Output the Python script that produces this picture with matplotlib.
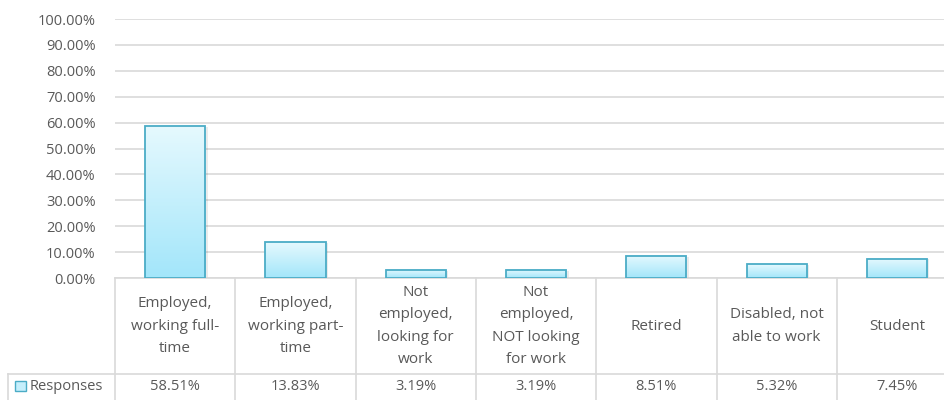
import numpy as np
import matplotlib
matplotlib.use("Agg")
import matplotlib.pyplot as plt
from matplotlib.patches import Rectangle

# data
categories = [
    "Employed,\nworking full-\ntime",
    "Employed,\nworking part-\ntime",
    "Not\nemployed,\nlooking for\nwork",
    "Not\nemployed,\nNOT looking\nfor work",
    "Retired",
    "Disabled, not\nable to work",
    "Student",
]
responses = [58.51, 13.83, 3.19, 3.19, 8.51, 5.32, 7.45]
series_name = "Responses"
y_ticks = [0, 10, 20, 30, 40, 50, 60, 70, 80, 90, 100]

W, H = 944, 400
text_col = "#595959"
grid_col = "#d9d9d9"
edge_col = "#4bacc6"
font = "Open Sans"

fig = plt.figure(figsize=(W / 100, H / 100), dpi=100)
left_px, top_px, bottom_px, col_px = 115, 19, 278, 120.3
ax = fig.add_axes([left_px / W, (H - bottom_px) / H,
                   col_px * len(categories) / W, (bottom_px - top_px) / H])

# gradient fill for each bar, light at top, stronger cyan at the bottom
grad = np.linspace(0, 1, 100).reshape(-1, 1)
cmap = matplotlib.colors.LinearSegmentedColormap.from_list(
    "bar", ["#a3e6fa", "#e5f9fe"])
for i, v in enumerate(responses):
    x0, x1 = i + 0.25, i + 0.75
    ax.imshow(grad, extent=[x0, x1, 0, v], origin="lower", cmap=cmap,
              aspect="auto", zorder=3)
    ax.add_patch(Rectangle((x0 + 0.02, -0.3), 0.5, v, facecolor="#000000",
                           alpha=0.08, edgecolor="none", zorder=2))
ax.bar(np.arange(len(responses)) + 0.5, responses, width=0.5,
       facecolor="none", edgecolor=edge_col, linewidth=1.3, zorder=4)

ax.set_xlim(0, len(categories))
ax.set_ylim(0, 100)
ax.set_yticks(y_ticks)
ax.set_yticklabels([f"{t:.2f}%" for t in y_ticks], color=text_col,
                   fontsize=10.5, family=font)
ax.tick_params(axis="y", length=0, pad=14)
ax.set_xticks([])
ax.grid(axis="y", color=grid_col, linewidth=1.2, zorder=0)
for s in ["top", "right", "left"]:
    ax.spines[s].set_visible(False)
ax.spines["bottom"].set_color(grid_col)
ax.spines["bottom"].set_linewidth(1.2)

# data table under the plot
px = 100 / (bottom_px - top_px)  # data units per pixel in y
y_row = -(374 - bottom_px) * px
y_end = -(H - bottom_px) * px
for i in range(len(categories) + 1):
    ax.plot([i, i], [0, y_end], color=grid_col, lw=1.2, clip_on=False)
x_leg = -(left_px - 8) / col_px
ax.plot([x_leg, len(categories)], [y_row, y_row], color=grid_col, lw=1.2,
        clip_on=False)
ax.plot([x_leg, x_leg], [y_row, y_end], color=grid_col, lw=1.2, clip_on=False)

for i, (c, v) in enumerate(zip(categories, responses)):
    ax.text(i + 0.5, y_row / 2, c, ha="center", va="center", color=text_col,
            fontsize=11, family=font, linespacing=1.68, clip_on=False)
    ax.text(i + 0.5, (y_row + y_end) / 2, f"{v:.2f}%", ha="center",
            va="center", color=text_col, fontsize=10.5, family=font,
            clip_on=False)

# legend key in the table row
ax.add_patch(Rectangle((-(left_px - 15) / col_px, -(391 - bottom_px) * px),
                       11 / col_px, 10 * px, facecolor="#c5effc",
                       edgecolor=edge_col, lw=1, clip_on=False))
ax.text(-(left_px - 30) / col_px, (y_row + y_end) / 2, series_name,
        ha="left", va="center", color=text_col, fontsize=10.5, family=font,
        clip_on=False)

fig.savefig("out.png", dpi=100)
